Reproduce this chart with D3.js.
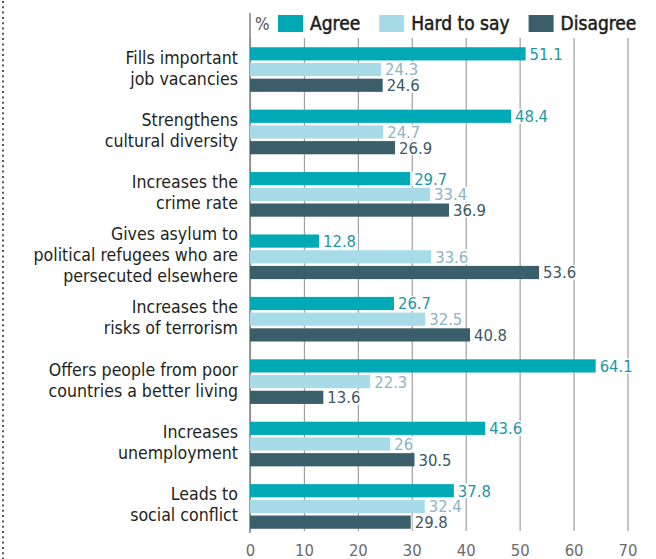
<!DOCTYPE html>
<html>
<head>
<meta charset="utf-8">
<script src="https://cdn.jsdelivr.net/npm/d3@7"></script>
<style>
  body { margin: 0; background: #fff; }
  svg text { font-family: "DejaVu Sans Condensed", "DejaVu Sans", sans-serif; font-stretch: condensed; }
</style>
</head>
<body>
<svg id="chart" width="656" height="559"></svg>
<script>
// data
const categories = [
  ['Fills important', 'job vacancies'],
  ['Strengthens', 'cultural diversity'],
  ['Increases the', 'crime rate'],
  ['Gives asylum to', 'political refugees who are', 'persecuted elsewhere'],
  ['Increases the', 'risks of terrorism'],
  ['Offers people from poor', 'countries a better living'],
  ['Increases', 'unemployment'],
  ['Leads to', 'social conflict']
];
const seriesNames = ['Agree', 'Hard to say', 'Disagree'];
const agree = [51.1, 48.4, 29.7, 12.8, 26.7, 64.1, 43.6, 37.8];
const hardToSay = [24.3, 24.7, 33.4, 33.6, 32.5, 22.3, 26, 32.4];
const disagree = [24.6, 26.9, 36.9, 53.6, 40.8, 13.6, 30.5, 29.8];
const tickValues = [0, 10, 20, 30, 40, 50, 60, 70];

const barColors = ['#00a9b6', '#a7dbe8', '#3a5e6a'];
const labelColors = ['#1b98a4', '#8db4c4', '#3b5865'];

const svg = d3.select('#chart');

// left dotted rule
svg.append('line')
  .attr('x1', 3).attr('x2', 3)
  .attr('y1', 1).attr('y2', 559)
  .attr('stroke', '#555')
  .attr('stroke-width', 2)
  .attr('stroke-dasharray', '2,3.3');

const keys = categories.map((d, i) => i);
const rows = keys.map(i => ({
  i,
  values: [agree[i], hardToSay[i], disagree[i]]
}));

const xScale = d3.scaleLinear()
  .domain([0, 70])
  .range([250, 627.5]);

const yScale = d3.scaleBand()
  .domain(keys)
  .range([38.5, 537.5])
  .paddingInner(0.285)
  .paddingOuter(0.14);

const ySub = d3.scaleBand()
  .domain(d3.range(3))
  .range([0, yScale.bandwidth()])
  .paddingInner(0.16);

// gridlines + tick labels
const gridBottom = 531;
const xAxis = d3.axisBottom(xScale)
  .tickValues(tickValues)
  .tickSizeInner(-(gridBottom - 38))
  .tickSizeOuter(0)
  .tickPadding(13);

const xAxisG = svg.append('g')
  .attr('class', 'x-axis')
  .attr('transform', `translate(0,${gridBottom})`)
  .call(xAxis);
xAxisG.select('.domain').remove();
xAxisG.selectAll('line')
  .attr('stroke', '#9f9f9f')
  .attr('stroke-width', 1.2);
xAxisG.selectAll('text')
  .attr('fill', '#6b6b6b')
  .attr('font-size', 16.5);

// zero line
svg.append('line')
  .attr('x1', xScale(0)).attr('x2', xScale(0))
  .attr('y1', 13).attr('y2', 533)
  .attr('stroke', '#8a8a8a')
  .attr('stroke-width', 1.6);

// bars
const groups = svg.selectAll('.group').data(rows)
  .enter().append('g')
    .attr('class', 'group')
    .attr('transform', d => `translate(0,${yScale(d.i)})`);

groups.selectAll('rect.bar').data(d => d.values)
  .enter().append('rect')
    .attr('class', 'bar')
    .attr('x', xScale(0))
    .attr('y', (d, j) => ySub(j))
    .attr('width', d => xScale(d) - xScale(0))
    .attr('height', ySub.bandwidth())
    .attr('fill', (d, j) => barColors[j]);

// white boxes behind value labels (hide gridlines)
const bgLayer = groups.append('g').attr('class', 'label-bg');
const textLayer = groups.append('g').attr('class', 'label-text');

textLayer.selectAll('.value').data(d => d.values)
  .enter().append('text')
    .attr('class', 'value')
    .attr('x', d => xScale(d) + 4)
    .attr('y', (d, j) => ySub(j) + ySub.bandwidth() / 2)
    .attr('dy', '0.36em')
    .attr('font-size', 16.5)
    .attr('fill', (d, j) => labelColors[j])
    .text(d => String(d))
    .each(function(d, j) {
      const w = this.getComputedTextLength();
      d3.select(this.parentNode.previousSibling).append('rect')
        .attr('x', xScale(d) + 2)
        .attr('y', ySub(j) + ySub.bandwidth() / 2 - 7.5)
        .attr('width', w + 4)
        .attr('height', 15)
        .attr('fill', '#fff');
    });

// category labels
groups.append('text')
  .attr('class', 'cat')
  .attr('text-anchor', 'end')
  .attr('font-size', 17.6)
  .attr('fill', '#231f20')
  .each(function(d) {
    const lines = categories[d.i];
    const mid = yScale.bandwidth() / 2;
    d3.select(this).selectAll('tspan').data(lines)
      .enter().append('tspan')
        .attr('x', 238)
        .attr('y', (t, k) => mid + (k - (lines.length - 1) / 2) * 21 + 4.5)
        .text(t => t);
  });

// legend
svg.append('text')
  .attr('x', 255).attr('y', 30)
  .attr('font-size', 17)
  .attr('fill', '#555')
  .text('%');

let lx = 278;
seriesNames.forEach((name, j) => {
  svg.append('rect')
    .attr('x', lx).attr('y', 15)
    .attr('width', 25).attr('height', 17)
    .attr('fill', barColors[j]);
  const t = svg.append('text')
    .attr('x', lx + 32).attr('y', 30)
    .attr('font-size', 19)
    .attr('fill', '#1c1c1c')
    .attr('stroke', '#1c1c1c')
    .attr('stroke-width', 0.5)
    .text(name);
  lx += 32 + t.node().getComputedTextLength() + 19;
});
</script>
</body>
</html>
